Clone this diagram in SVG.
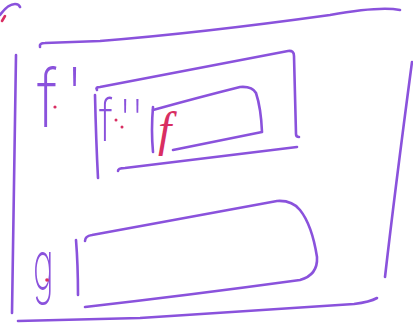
<svg xmlns="http://www.w3.org/2000/svg" width="413" height="323" viewBox="0 0 413 323">
<style>
.ink{fill:none;stroke:#8a52dc;stroke-width:2.6;stroke-linecap:round;stroke-linejoin:round}
.red{fill:none;stroke:#d92e62;stroke-width:2.6;stroke-linecap:round}
.dot{fill:#d92e62}
.lbl{font-family:Inter,"Liberation Sans",sans-serif;font-weight:200;fill:#8a52dc}
.lblr{font-family:"Liberation Serif",serif;font-style:italic;fill:#d92e62}
</style>
<rect width="413" height="323" fill="#ffffff"/>
<g id="mark">
<path class="ink" d="M0,15 Q8,4 15,4 Q19,4 20,7"/>
<path class="red" d="M2,21 L5,16"/>
</g>
<g id="outer">
<path class="ink" d="M40,47 Q39,43 45,43 L100,41 Q200,33 330,15 Q380,6 400,10"/>
<path class="ink" d="M16,55 Q14,160 12,313"/>
<path class="ink" d="M18,321 L140,318 Q260,310 354,304 Q370,302 377,298"/>
<path class="ink" d="M412,62 Q395,190 385,277"/>
<text class="lbl" x="37" y="127" font-size="80" transform="translate(37,127) scale(0.8,1) translate(-37,-127)">f<tspan dx="10" dy="-2" font-size="80">'</tspan></text>
<circle class="dot" cx="55" cy="107" r="1.6"/>
</g>
<g id="middle">
<path class="ink" d="M97,90 Q95,87 100,87 Q200,68 288,51 Q294,50 294,56 L296,134 Q296,137 299,137"/>
<path class="ink" d="M95,95 Q96,140 98,178"/>
<path class="ink" d="M118,171 Q118,168 125,168 Q210,158 297,147"/>
<text class="lbl" x="99" y="141" font-size="58" transform="translate(99,141) scale(0.75,1) translate(-99,-141)">f<tspan dx="8" font-size="58">''</tspan></text>
<circle class="dot" cx="116" cy="120" r="1.5"/>
<circle class="dot" cx="122" cy="127" r="1.5"/>
</g>
<g id="inner">
<path class="ink" d="M153,110 Q200,97 240,87 Q252,86 256,93 Q261,108 262,132 L173,150"/>
<path class="ink" d="M153,107 Q151,130 153,152"/>
<text class="lblr" x="158" y="146" font-size="48">f</text>
</g>
<g id="gbox">
<path class="ink" d="M85,241 Q85,236 92,235 Q200,215 277,201 Q292,200 300,210 Q312,225 317,257 Q318,275 300,280 Q190,295 85,307"/>
<path class="ink" d="M76,240 Q78,265 78,295"/>
<text class="lbl" x="33" y="290" font-size="70" transform="translate(33,290) scale(0.5,1) translate(-33,-290)">g</text>
<circle class="dot" cx="47" cy="280" r="1.8"/>
</g>
<g id="connectors"/>
</svg>
